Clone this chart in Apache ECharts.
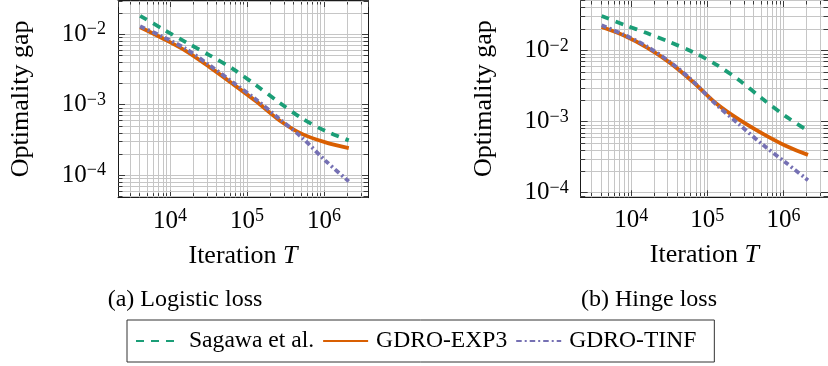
<!DOCTYPE html>
<html>
<head>
<meta charset="utf-8">
<script src="https://cdn.jsdelivr.net/npm/echarts@6/dist/echarts.min.js"></script>
<style>
  html, body { margin: 0; padding: 0; background: #fff; }
  #chart { width: 828px; height: 366px; }
</style>
</head>
<body>
<div id="chart"></div>
<script>
// T = 2^12 ... 2^21
const iterations = [4096, 8192, 16384, 32768, 65536, 131072, 262144, 524288, 1048576, 2097152];

// (a) logistic loss
const logisticSagawa = [0.0182, 0.0117, 0.0076, 0.0050, 0.00321, 0.00188, 0.00107, 0.00063, 0.00042, 0.00031];
const logisticExp3 = [0.0125, 0.0086, 0.0057, 0.0034, 0.00196, 0.00111, 0.00060, 0.00038, 0.00029, 0.00024];
const logisticTinf = [0.0129, 0.0091, 0.0061, 0.0036, 0.00207, 0.00118, 0.00063, 0.000335, 0.000159, 0.000081];

// (b) hinge loss
const hingeSagawa = [0.0303, 0.0227, 0.0173, 0.0129, 0.0094, 0.0063, 0.0038, 0.0021, 0.00120, 0.00074];
const hingeExp3 = [0.0212, 0.0160, 0.0108, 0.0066, 0.00356, 0.00179, 0.00106, 0.00068, 0.00046, 0.00034];
const hingeTinf = [0.0224, 0.0164, 0.0112, 0.0068, 0.00363, 0.00173, 0.00091, 0.00048, 0.00027, 0.00015];

const seriesNames = ["Sagawa et al.", "GDRO-EXP3", "GDRO-TINF"];
const panelTitles = ["(a) Logistic loss", "(b) Hinge loss"];
const minorMultipliers = [2, 3, 4, 5, 6, 7, 8, 9];

const serif = '"Liberation Serif", "Times New Roman", serif';
const colors = ["#1b9e77", "#d95f02", "#7570b3"];
const dashes = [[8, 7], "solid", [5.5, 3, 2, 3]];
const gridColor = "#c6c6c6";
const tickColor = "#3a3a3a";

const panels = [
  {
    grid: { left: 118, top: -1, width: 250, height: 198.7 },
    xRange: [2113, 3.727e6],
    yRange: [4.76e-5, 0.0305],
    values: [logisticSagawa, logisticExp3, logisticTinf],
    title: panelTitles[0],
    titleX: 185,
  },
  {
    grid: { left: 580.7, top: -1, width: 250, height: 198.3 },
    xRange: [2176, 3.84e6],
    yRange: [8.63e-5, 0.0508],
    values: [hingeSagawa, hingeExp3, hingeTinf],
    title: panelTitles[1],
    titleX: 649,
  },
];

function powerLabel(value) {
  const e = Math.log10(value);
  const r = Math.round(e);
  if (Math.abs(e - r) > 1e-6) return "";
  return "{b|10}{s|" + (r < 0 ? "\u2212" + -r : String(r)) + "}";
}

const labelRich = {
  b: { fontFamily: serif, fontSize: 25, color: "#000" },
  s: { fontFamily: serif, fontSize: 18, color: "#000", padding: [0, 0, 9, 0] },
};

function minorValues(range) {
  const out = [];
  const lo = Math.floor(Math.log10(range[0]));
  const hi = Math.ceil(Math.log10(range[1]));
  for (let e = lo; e <= hi; e++) {
    for (const m of minorMultipliers) {
      const v = m * Math.pow(10, e);
      if (v > range[0] && v < range[1]) out.push(v);
    }
  }
  return out;
}

function verticalMinor(params, api) {
  const cs = params.coordSys;
  const x = Math.round(api.coord([api.value(0), api.value(1)])[0]) + 0.5;
  const bottom = cs.y + cs.height;
  return {
    type: "group",
    children: [
      { type: "line", shape: { x1: x, y1: cs.y, x2: x, y2: bottom }, style: { stroke: gridColor, lineWidth: 1 } },
      { type: "line", shape: { x1: x, y1: bottom, x2: x, y2: bottom - 4.5 }, style: { stroke: tickColor, lineWidth: 1 } },
      { type: "line", shape: { x1: x, y1: cs.y, x2: x, y2: cs.y + 4.5 }, style: { stroke: tickColor, lineWidth: 1 } },
    ],
  };
}

function horizontalMinor(params, api) {
  const cs = params.coordSys;
  const y = Math.round(api.coord([api.value(0), api.value(1)])[1]) + 0.5;
  const right = cs.x + cs.width;
  return {
    type: "group",
    children: [
      { type: "line", shape: { x1: cs.x, y1: y, x2: right, y2: y }, style: { stroke: gridColor, lineWidth: 1 } },
      { type: "line", shape: { x1: cs.x, y1: y, x2: cs.x + 4.5, y2: y }, style: { stroke: tickColor, lineWidth: 1 } },
      { type: "line", shape: { x1: right, y1: y, x2: right - 4.5, y2: y }, style: { stroke: tickColor, lineWidth: 1 } },
    ],
  };
}

const grids = [];
const xAxes = [];
const yAxes = [];
const series = [];
const titles = [];

panels.forEach((p, i) => {
  grids.push(p.grid);
  const frame = { show: true, onZero: false, lineStyle: { color: "#1a1a1a", width: 1 } };
  const majorTick = { show: true, inside: true, length: 7, lineStyle: { color: tickColor, width: 1 } };

  xAxes.push({
    type: "log", gridIndex: i, position: "bottom", min: p.xRange[0], max: p.xRange[1],
    name: "{n|Iteration }{t|T}", nameLocation: "middle", nameGap: 45,
    nameTextStyle: {
      rich: {
        n: { fontFamily: serif, fontSize: 26, color: "#000" },
        t: { fontFamily: serif, fontSize: 26, fontStyle: "italic", color: "#000" },
      },
    },
    axisLine: frame, axisTick: majorTick,
    axisLabel: { margin: 10, formatter: powerLabel, rich: labelRich, showMinLabel: false, showMaxLabel: false },
    splitLine: { show: true, lineStyle: { color: gridColor, width: 1 } },
  });
  xAxes.push({
    type: "log", gridIndex: i, position: "top", min: p.xRange[0], max: p.xRange[1],
    axisLine: frame, axisTick: majorTick, axisLabel: { show: false }, splitLine: { show: false },
  });
  yAxes.push({
    type: "log", gridIndex: i, position: "left", min: p.yRange[0], max: p.yRange[1],
    name: "Optimality gap", nameLocation: "middle", nameGap: 84,
    nameTextStyle: { fontFamily: serif, fontSize: 26, color: "#000" },
    axisLine: frame, axisTick: majorTick,
    axisLabel: { margin: 12, formatter: powerLabel, rich: labelRich, showMinLabel: false, showMaxLabel: false },
    splitLine: { show: true, lineStyle: { color: gridColor, width: 1 } },
  });
  yAxes.push({
    type: "log", gridIndex: i, position: "right", min: p.yRange[0], max: p.yRange[1],
    axisLine: frame, axisTick: majorTick, axisLabel: { show: false }, splitLine: { show: false },
  });

  series.push({
    type: "custom", xAxisIndex: 2 * i, yAxisIndex: 2 * i, silent: true, z: 1,
    data: minorValues(p.xRange).map((v) => [v, p.yRange[0]]),
    renderItem: verticalMinor,
  });
  series.push({
    type: "custom", xAxisIndex: 2 * i, yAxisIndex: 2 * i, silent: true, z: 1,
    data: minorValues(p.yRange).map((v) => [p.xRange[0], v]),
    renderItem: horizontalMinor,
  });

  p.values.forEach((vals, k) => {
    series.push({
      type: "line", name: seriesNames[k], xAxisIndex: 2 * i, yAxisIndex: 2 * i, z: 3,
      data: iterations.map((t, j) => [t, vals[j]]),
      symbol: "none", smooth: 0.3,
      lineStyle: { color: colors[k], width: 3.8, type: dashes[k] },
      itemStyle: { color: colors[k] },
    });
  });

  titles.push({
    text: p.title, left: p.titleX, top: 288, textAlign: "center", padding: 0,
    textStyle: { fontFamily: serif, fontSize: 24, fontWeight: "normal", color: "#000" },
  });
});

const chart = echarts.init(document.getElementById("chart"));
chart.setOption({
  animation: false,
  backgroundColor: "#fff",
  title: titles,
  grid: grids,
  xAxis: xAxes,
  yAxis: yAxes,
  legend: {
    data: seriesNames,
    left: 127, top: 320,
    itemWidth: 45, itemHeight: 24, itemGap: 8,
    padding: [9, 18, 9, 8],
    borderColor: "#333", borderWidth: 1, borderRadius: 0,
    itemStyle: { opacity: 0 },
    textStyle: { fontFamily: serif, fontSize: 23.6, color: "#000", padding: [0, 0, 0, 3] },
  },
  series: series,
});
</script>
</body>
</html>
